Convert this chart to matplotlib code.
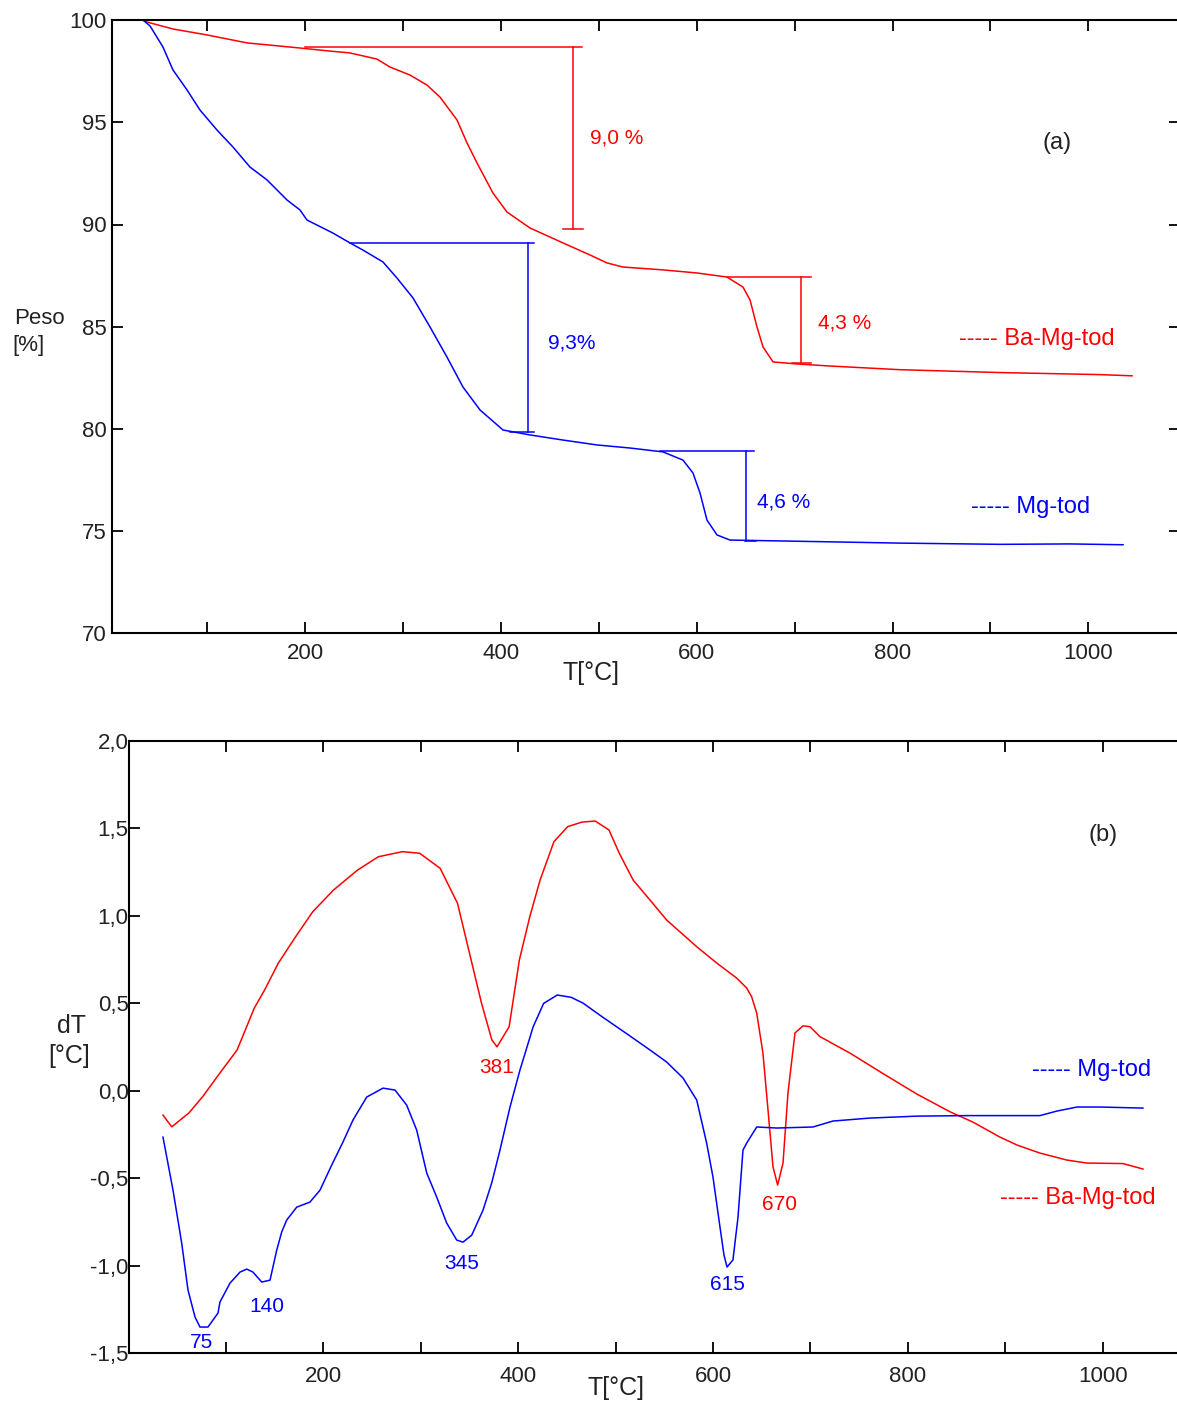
import matplotlib.pyplot as plt

plt.rcParams['font.family'] = ['Liberation Sans', 'DejaVu Sans']

RED = '#ff0000'
BLUE = '#0000ff'

# --- (a) TG curves: temperature [C] vs weight [%]
tg_red_T = [34.3, 38.4, 65.0, 99.7, 140.6, 194.7, 225.3, 245.7, 273.3, 286.6,
            307.0, 324.4, 337.7, 355.1, 365.3, 375.5, 391.8, 406.1, 429.6, 463.3,
            490.9, 508.3, 524.6, 565.5, 600.2, 630.9, 647.2, 654.4, 661.5, 667.7,
            677.9, 702.4, 736.0, 807.6, 909.8, 1011.9, 1044.6]
tg_red_w = [100.0, 99.90, 99.56, 99.27, 98.88, 98.63, 98.48, 98.39, 98.09, 97.70,
            97.31, 96.82, 96.23, 95.11, 93.99, 93.01, 91.54, 90.61, 89.83, 89.10,
            88.51, 88.12, 87.92, 87.78, 87.63, 87.43, 86.94, 86.31, 84.99, 84.01,
            83.28, 83.18, 83.08, 82.90, 82.76, 82.66, 82.60]

tg_blue_T = [34.3, 41.5, 54.7, 64.9, 79.3, 92.5, 109.9, 126.2, 143.6, 161.0,
             181.4, 194.7, 201.8, 228.4, 245.7, 259.0, 279.4, 293.8, 310.1, 327.5,
             344.8, 361.2, 378.6, 402.1, 429.6, 463.3, 498.1, 531.8, 565.5, 585.9,
             596.1, 603.3, 610.4, 620.6, 633.9, 715.6, 807.6, 909.8, 981.3, 1035.4]
tg_blue_w = [100.0, 99.71, 98.68, 97.56, 96.58, 95.60, 94.62, 93.79, 92.81, 92.18,
             91.20, 90.71, 90.22, 89.58, 89.10, 88.75, 88.17, 87.38, 86.41, 84.99,
             83.52, 82.05, 80.93, 79.95, 79.71, 79.46, 79.22, 79.07, 78.88, 78.48,
             77.85, 76.87, 75.55, 74.82, 74.57, 74.50, 74.42, 74.36, 74.38, 74.34]

# weight-loss steps drawn on (a)
step_color = [RED, RED, BLUE, BLUE]
step_h_from = [200, 631, 246, 562]
step_h_to = [483, 717, 434, 658]
step_v_at = [474, 706, 428, 650]
step_top = [98.67, 87.42, 89.11, 78.92]
step_bottom = [89.78, 83.23, 79.85, 74.52]
step_cap_from = [463, 697, 409, 649]
step_cap_to = [484, 717, 434, 661]
step_labels = ['9,0 %', '4,3 %', '9,3%', '4,6 %']
step_label_T = [491, 724, 448, 662]
step_label_w = [94.23, 85.18, 84.2, 76.43]

# --- (b) DTA curves: temperature [C] vs dT [C]
dta_red_T = [35.3, 44.3, 61.9, 76.0, 93.7, 111.4, 129.1, 139.6, 153.8, 171.5,
             189.1, 210.4, 235.1, 256.4, 281.1, 298.8, 319.9, 337.7, 351.7, 362.4,
             373.0, 378.3, 390.7, 401.2, 411.9, 422.5, 436.7, 450.8, 465.5, 479.1,
             493.2, 503.8, 518.0, 535.3, 552.5, 583.3, 603.8, 624.3, 634.6, 639.7,
             644.9, 651.3, 656.5, 661.6, 666.4, 671.9, 677.0, 684.2, 692.4, 699.6,
             709.9, 740.7, 774.6, 809.4, 843.3, 866.9, 894.7, 912.1, 935.7, 963.4,
             983.9, 1020.9, 1041.4]
dta_red_v = [-0.139, -0.206, -0.127, -0.034, 0.101, 0.233, 0.473, 0.575, 0.730, 0.880,
             1.023, 1.147, 1.261, 1.337, 1.366, 1.357, 1.271, 1.071, 0.747, 0.499,
             0.290, 0.251, 0.366, 0.747, 0.994, 1.204, 1.423, 1.509, 1.535, 1.541,
             1.490, 1.357, 1.204, 1.090, 0.975, 0.823, 0.730, 0.644, 0.587, 0.537,
             0.444, 0.215, -0.110, -0.434, -0.539, -0.413, -0.013, 0.330, 0.371, 0.366,
             0.309, 0.215, 0.098, -0.019, -0.120, -0.179, -0.265, -0.310, -0.356, -0.396,
             -0.413, -0.416, -0.447]

dta_blue_T = [35.3, 45.6, 54.5, 61.0, 68.2, 73.3, 81.5, 91.8, 93.8, 104.1,
              114.4, 121.3, 127.7, 136.7, 145.2, 152.1, 157.2, 162.3, 172.6, 186.2,
              196.5, 208.5, 220.1, 230.4, 244.5, 261.2, 273.5, 285.5, 295.8, 306.1,
              316.3, 326.6, 336.9, 343.3, 352.3, 363.9, 372.8, 381.3, 391.6, 401.8,
              415.4, 426.1, 440.1, 454.3, 466.5, 486.1, 510.9, 535.3, 552.5, 569.2,
              583.3, 593.5, 600.0, 607.2, 611.3, 614.4, 620.5, 625.7, 630.8, 634.6,
              644.9, 665.7, 702.7, 723.2, 761.2, 809.4, 860.8, 935.7, 953.2, 973.7,
              997.3, 1041.4]
dta_blue_v = [-0.265, -0.568, -0.870, -1.139, -1.293, -1.350, -1.350, -1.270, -1.207, -1.099,
              -1.036, -1.019, -1.036, -1.093, -1.082, -0.910, -0.807, -0.739, -0.665, -0.636,
              -0.568, -0.425, -0.293, -0.167, -0.036, 0.015, 0.004, -0.082, -0.225, -0.470,
              -0.607, -0.756, -0.853, -0.865, -0.825, -0.682, -0.527, -0.339, -0.093, 0.118,
              0.366, 0.499, 0.547, 0.534, 0.501, 0.423, 0.328, 0.233, 0.164, 0.073,
              -0.053, -0.299, -0.493, -0.779, -0.939, -1.007, -0.967, -0.722, -0.339, -0.299,
              -0.207, -0.213, -0.207, -0.173, -0.156, -0.145, -0.142, -0.142, -0.116, -0.093,
              -0.093, -0.099]

# peak labels on (b)
blue_peaks = ['75', '140', '345', '615']
blue_peak_T = [74.5, 142, 342, 614.5]
blue_peak_v = [-1.436, -1.231, -0.986, -1.105]
red_peaks = ['381', '670']
red_peak_T = [378, 668]
red_peak_v = [0.135, -0.65]

x_ticks = [100, 200, 300, 400, 500, 600, 700, 800, 900, 1000]
x_ticklabels = ['', '200', '', '400', '', '600', '', '800', '', '1000']
tg_ticks = [70, 75, 80, 85, 90, 95, 100]
dta_ticks = [-1.5, -1.0, -0.5, 0.0, 0.5, 1.0, 1.5, 2.0]

W, H = 1177, 1403
fig = plt.figure(figsize=(W / 100, H / 100), dpi=100)

ax1 = fig.add_axes([112 / W, 1 - 633.5 / H, (1180 - 112) / W, (633.5 - 20) / H])
ax2 = fig.add_axes([128.6 / W, 1 - 1353.3 / H, (1180 - 128.6) / W, (1353.3 - 740.7) / H])

for ax in (ax1, ax2):
    for s in ax.spines.values():
        s.set_linewidth(1.5)
    ax.set_xticks(x_ticks)
    ax.set_xticklabels(x_ticklabels)
    ax.tick_params(axis='both', direction='in', length=8, width=1.3,
                   labelsize=16, labelcolor='#222222')

# ---- panel (a)
ax1.plot(tg_red_T, tg_red_w, color=RED, lw=1.1)
ax1.plot(tg_blue_T, tg_blue_w, color=BLUE, lw=1.1)
for i in range(len(step_labels)):
    c = step_color[i]
    ax1.plot([step_h_from[i], step_h_to[i]], [step_top[i], step_top[i]], color=c, lw=1.1)
    ax1.plot([step_v_at[i], step_v_at[i]], [step_top[i], step_bottom[i]], color=c, lw=1.1)
    ax1.plot([step_cap_from[i], step_cap_to[i]], [step_bottom[i], step_bottom[i]], color=c, lw=1.1)
    ax1.text(step_label_T[i], step_label_w[i], step_labels[i], color=c, fontsize=15,
             ha='left', va='center')

ax1.set_xlim(2.66, 1093.6)
ax1.set_ylim(70, 100)
ax1.set_yticks(tg_ticks)
ax1.set_yticklabels([str(t) for t in tg_ticks])
ax1.tick_params(axis='x', top=True, pad=7)
ax1.tick_params(axis='y', right=True, pad=4)
ax1.text(968, 93.99, '(a)', fontsize=17, ha='center', va='center', color='#222222')
ax1.text(867.8, 84.4, '----- Ba-Mg-tod', color=RED, fontsize=17, ha='left', va='center')
ax1.text(880, 76.19, '----- Mg-tod', color=BLUE, fontsize=17, ha='left', va='center')

# ---- panel (b)
ax2.plot(dta_red_T, dta_red_v, color=RED, lw=1.1)
ax2.plot(dta_blue_T, dta_blue_v, color=BLUE, lw=1.1)
for lab, t, v in zip(blue_peaks, blue_peak_T, blue_peak_v):
    ax2.text(t, v, lab, color=BLUE, fontsize=15, ha='center', va='center')
for lab, t, v in zip(red_peaks, red_peak_T, red_peak_v):
    ax2.text(t, v, lab, color=RED, fontsize=15, ha='center', va='center')

ax2.set_xlim(0, 1079.5)
ax2.set_ylim(-1.5, 2.0)
ax2.set_yticks(dta_ticks)
ax2.set_yticklabels([('%.1f' % t).replace('.', ',') for t in dta_ticks])
ax2.tick_params(axis='x', top=True, pad=9)
ax2.tick_params(axis='y', right=False, pad=0)
ax2.text(1000.5, 1.46, '(b)', fontsize=17, ha='center', va='center', color='#222222')
ax2.text(927.5, 0.118, '----- Mg-tod', color=BLUE, fontsize=17, ha='left', va='center')
ax2.text(894.7, -0.614, '----- Ba-Mg-tod', color=RED, fontsize=17, ha='left', va='center')

# axis titles
fig.text(591 / W, 1 - 673 / H, 'T[°C]', fontsize=18, ha='center', va='center', color='#222222')
fig.text(616 / W, 1 - 1388 / H, 'T[°C]', fontsize=18, ha='center', va='center', color='#222222')
fig.text(14 / W, 1 - 319 / H, 'Peso', fontsize=16, ha='left', va='center', color='#222222')
fig.text(12 / W, 1 - 345 / H, '[%]', fontsize=16, ha='left', va='center', color='#222222')
fig.text(72 / W, 1 - 1026 / H, 'dT', fontsize=18, ha='center', va='center', color='#222222')
fig.text(69 / W, 1 - 1056 / H, '[°C]', fontsize=18, ha='center', va='center', color='#222222')

fig.savefig('out.png', dpi=100)
